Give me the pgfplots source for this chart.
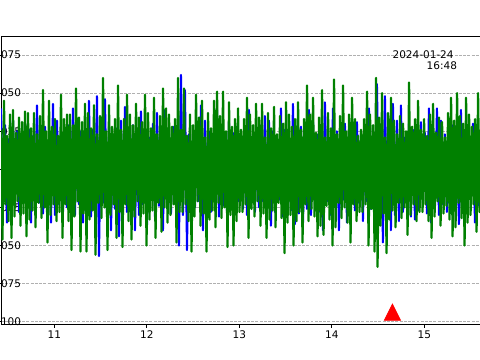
\documentclass[border=0pt]{standalone}
\usepackage{fontspec}
\setmainfont{DejaVu Sans}
\usepackage{pgfplots}
\pgfplotsset{compat=1.18}
\definecolor{mplgreen}{RGB}{0,128,0}
\definecolor{mplblue}{RGB}{0,0,255}
\definecolor{gridgray}{RGB}{176,176,176}
\pgfdeclareplotmark{mpltri}{%
  \pgfpathmoveto{\pgfqpoint{0pt}{\pgfplotmarksize}}%
  \pgfpathlineto{\pgfqpoint{-\pgfplotmarksize}{-\pgfplotmarksize}}%
  \pgfpathlineto{\pgfqpoint{\pgfplotmarksize}{-\pgfplotmarksize}}%
  \pgfpathclose\pgfusepathqfillstroke}
\pgfplotsset{layers/mylayers/.define layer set={axis background,axis grid,axis ticks,axis tick labels,pre main,main,axis lines,axis descriptions,axis foreground}{}}
\begin{document}
\begin{tikzpicture}
\begin{axis}[
  set layers=mylayers,
  at={(0,0)}, anchor=south west,
  scale only axis, width=488bp, height=288bp,
  xmin=10.424, xmax=15.70, ymin=-0.1015, ymax=0.0875,
  xtick={11,12,13,14,15},
  ytick={-0.1,-0.075,-0.05,-0.025,0,0.025,0.05,0.075},
  scaled y ticks=false, scaled x ticks=false,
  xtick pos=lower, ytick pos=left,
  ymajorgrids,
  grid style={gridgray, line width=0.8bp, dash pattern=on 2.96bp off 1.28bp},
  axis line style={line width=0.8bp, black},
  tick style={line width=0.8bp, black},
  tick align=outside, major tick length=3.5bp,
  tick label style={font=\fontsize{10.5bp}{12bp}\selectfont},
  /pgf/number format/assume math mode=true,
  yticklabel style={/pgf/number format/fixed, /pgf/number format/fixed zerofill, /pgf/number format/precision=3, anchor=east, inner sep=0pt, xshift=23.8bp},
  xticklabel style={inner sep=0pt, anchor=north, yshift=-3.5bp},
]
\addplot[mplblue, line width=2bp, line join=round] table[x expr=10.424+\coordindex*0.02162, y index=0, header=false, row sep=\\]{
0.040\\ -0.025\\ 0.029\\ -0.035\\ 0.020\\ -0.030\\ 0.032\\ -0.023\\ 0.025\\ -0.028\\
0.021\\ -0.020\\ 0.030\\ -0.031\\ 0.026\\ -0.035\\ 0.022\\ -0.027\\ 0.042\\ -0.022\\
0.024\\ -0.029\\ 0.028\\ -0.021\\ 0.020\\ -0.035\\ 0.043\\ -0.030\\ 0.032\\ -0.023\\
0.023\\ -0.028\\ 0.023\\ -0.025\\ 0.029\\ -0.021\\ 0.040\\ -0.030\\ 0.032\\ -0.023\\
0.025\\ -0.035\\ 0.021\\ -0.020\\ 0.045\\ -0.031\\ 0.026\\ -0.024\\ 0.048\\ -0.057\\
0.031\\ -0.022\\ 0.046\\ -0.029\\ 0.028\\ -0.040\\ 0.020\\ -0.026\\ 0.027\\ -0.044\\
0.032\\ -0.023\\ 0.041\\ -0.028\\ 0.023\\ -0.025\\ 0.029\\ -0.040\\ 0.020\\ -0.030\\
0.038\\ -0.023\\ 0.025\\ -0.037\\ 0.021\\ -0.020\\ 0.030\\ -0.031\\ 0.037\\ -0.024\\
0.022\\ -0.040\\ 0.039\\ -0.022\\ 0.024\\ -0.029\\ 0.028\\ -0.021\\ 0.020\\ -0.050\\
0.062\\ -0.030\\ 0.052\\ -0.053\\ 0.023\\ -0.028\\ 0.023\\ -0.025\\ 0.029\\ -0.021\\
0.042\\ -0.040\\ 0.032\\ -0.023\\ 0.025\\ -0.028\\ 0.021\\ -0.020\\ 0.040\\ -0.031\\
0.026\\ -0.024\\ 0.022\\ -0.027\\ 0.031\\ -0.022\\ 0.024\\ -0.029\\ 0.028\\ -0.021\\
0.020\\ -0.026\\ 0.027\\ -0.030\\ 0.039\\ -0.023\\ 0.023\\ -0.028\\ 0.023\\ -0.025\\
0.029\\ -0.021\\ 0.035\\ -0.030\\ 0.032\\ -0.037\\ 0.025\\ -0.028\\ 0.021\\ -0.020\\
0.040\\ -0.031\\ 0.026\\ -0.024\\ 0.022\\ -0.027\\ 0.043\\ -0.036\\ 0.024\\ -0.029\\
0.028\\ -0.036\\ 0.020\\ -0.026\\ 0.039\\ -0.030\\ 0.032\\ -0.023\\ 0.023\\ -0.028\\
0.023\\ -0.040\\ 0.044\\ -0.021\\ 0.020\\ -0.030\\ 0.040\\ -0.023\\ 0.025\\ -0.040\\
0.021\\ -0.020\\ 0.030\\ -0.035\\ 0.026\\ -0.024\\ 0.022\\ -0.027\\ 0.031\\ -0.022\\
0.024\\ -0.034\\ 0.028\\ -0.021\\ 0.040\\ -0.026\\ 0.027\\ -0.030\\ 0.056\\ -0.023\\
0.023\\ -0.048\\ 0.048\\ -0.025\\ 0.029\\ -0.040\\ 0.043\\ -0.030\\ 0.032\\ -0.034\\
0.042\\ -0.028\\ 0.021\\ -0.020\\ 0.030\\ -0.031\\ 0.026\\ -0.033\\ 0.022\\ -0.027\\
0.031\\ -0.022\\ 0.024\\ -0.029\\ 0.040\\ -0.035\\ 0.020\\ -0.026\\ 0.040\\ -0.030\\
0.032\\ -0.023\\ 0.023\\ -0.028\\ 0.023\\ -0.025\\ 0.029\\ -0.021\\ 0.020\\ -0.036\\
0.039\\ -0.023\\ 0.025\\ -0.028\\ 0.021\\ -0.020\\ 0.030\\ -0.035\\ 0.026\\ -0.024\\
0.022\\ -0.027\\
};
\addplot[mplgreen, line width=2.2bp, line join=round] table[x expr=10.424+\coordindex*0.01622, y index=0, header=false, row sep=\\]{
0.026\\ -0.046\\ 0.045\\ -0.023\\ 0.022\\ -0.034\\ 0.036\\ -0.045\\ 0.039\\ -0.031\\
0.024\\ -0.021\\ 0.034\\ -0.037\\ 0.031\\ -0.029\\ 0.038\\ -0.044\\ 0.037\\ -0.033\\
0.027\\ -0.027\\ 0.037\\ -0.038\\ 0.023\\ -0.022\\ 0.035\\ -0.032\\ 0.052\\ -0.025\\
0.025\\ -0.048\\ 0.045\\ -0.030\\ 0.028\\ -0.023\\ 0.033\\ -0.034\\ 0.022\\ -0.028\\
0.049\\ -0.045\\ 0.033\\ -0.023\\ 0.036\\ -0.034\\ 0.036\\ -0.053\\ 0.029\\ -0.031\\
0.053\\ -0.021\\ 0.034\\ -0.054\\ 0.031\\ -0.029\\ 0.043\\ -0.054\\ 0.037\\ -0.033\\
0.027\\ -0.027\\ 0.042\\ -0.056\\ 0.023\\ -0.022\\ 0.035\\ -0.032\\ 0.060\\ -0.025\\
0.025\\ -0.053\\ 0.042\\ -0.030\\ 0.028\\ -0.023\\ 0.033\\ -0.045\\ 0.055\\ -0.028\\
0.026\\ -0.051\\ 0.033\\ -0.023\\ 0.049\\ -0.034\\ 0.036\\ -0.046\\ 0.029\\ -0.031\\
0.043\\ -0.021\\ 0.034\\ -0.037\\ 0.031\\ -0.029\\ 0.049\\ -0.050\\ 0.037\\ -0.033\\
0.027\\ -0.027\\ 0.047\\ -0.045\\ 0.023\\ -0.022\\ 0.035\\ -0.041\\ 0.053\\ -0.025\\
0.040\\ -0.035\\ 0.036\\ -0.030\\ 0.028\\ -0.023\\ 0.033\\ -0.048\\ 0.060\\ -0.028\\
0.026\\ -0.028\\ 0.053\\ -0.023\\ 0.022\\ -0.034\\ 0.036\\ -0.054\\ 0.029\\ -0.031\\
0.049\\ -0.021\\ 0.034\\ -0.037\\ 0.045\\ -0.029\\ 0.021\\ -0.054\\ 0.037\\ -0.033\\
0.027\\ -0.027\\ 0.045\\ -0.038\\ 0.051\\ -0.022\\ 0.035\\ -0.032\\ 0.051\\ -0.025\\
0.025\\ -0.051\\ 0.044\\ -0.030\\ 0.028\\ -0.050\\ 0.033\\ -0.034\\ 0.040\\ -0.028\\
0.026\\ -0.028\\ 0.033\\ -0.023\\ 0.047\\ -0.045\\ 0.036\\ -0.026\\ 0.029\\ -0.031\\
0.043\\ -0.021\\ 0.034\\ -0.037\\ 0.043\\ -0.029\\ 0.021\\ -0.045\\ 0.037\\ -0.033\\
0.027\\ -0.027\\ 0.041\\ -0.038\\ 0.023\\ -0.022\\ 0.035\\ -0.032\\ 0.030\\ -0.055\\
0.044\\ -0.035\\ 0.036\\ -0.030\\ 0.028\\ -0.050\\ 0.033\\ -0.034\\ 0.044\\ -0.028\\
0.026\\ -0.048\\ 0.033\\ -0.023\\ 0.055\\ -0.034\\ 0.036\\ -0.026\\ 0.047\\ -0.031\\
0.024\\ -0.044\\ 0.034\\ -0.037\\ 0.052\\ -0.043\\ 0.021\\ -0.024\\ 0.037\\ -0.033\\
0.027\\ -0.050\\ 0.059\\ -0.038\\ 0.023\\ -0.022\\ 0.035\\ -0.032\\ 0.055\\ -0.025\\
0.025\\ -0.035\\ 0.036\\ -0.048\\ 0.047\\ -0.023\\ 0.033\\ -0.034\\ 0.022\\ -0.028\\
0.026\\ -0.028\\ 0.033\\ -0.023\\ 0.051\\ -0.050\\ 0.036\\ -0.026\\ 0.029\\ -0.054\\
0.060\\ -0.064\\ 0.034\\ -0.037\\ 0.050\\ -0.029\\ 0.021\\ -0.055\\ 0.037\\ -0.033\\
0.047\\ -0.027\\ 0.032\\ -0.038\\ 0.023\\ -0.022\\ 0.035\\ -0.032\\ 0.030\\ -0.025\\
0.025\\ -0.043\\ 0.057\\ -0.030\\ 0.028\\ -0.023\\ 0.033\\ -0.034\\ 0.045\\ -0.028\\
0.026\\ -0.028\\ 0.033\\ -0.023\\ 0.022\\ -0.034\\ 0.036\\ -0.045\\ 0.043\\ -0.031\\
0.024\\ -0.021\\ 0.034\\ -0.037\\ 0.031\\ -0.029\\ 0.021\\ -0.024\\ 0.037\\ -0.033\\
0.047\\ -0.044\\ 0.032\\ -0.038\\ 0.050\\ -0.022\\ 0.035\\ -0.032\\ 0.030\\ -0.050\\
0.047\\ -0.035\\ 0.036\\ -0.030\\ 0.028\\ -0.023\\ 0.033\\ -0.041\\ 0.050\\ -0.028\\
0.026\\ -0.028\\
};
\addplot[only marks, mark=mpltri, mark size=8bp, red, mark options={fill=red, draw=red, line width=0.8bp}] coordinates {(14.656,-0.0938)};
\end{axis}
\node[anchor=base east, inner sep=0pt, font=\fontsize{10.5bp}{12bp}\selectfont] at (452.8bp,265.7bp) {2024-01-24};
\node[anchor=base east, inner sep=0pt, font=\fontsize{10.5bp}{12bp}\selectfont] at (456.2bp,254bp) {16:48};
\pgfresetboundingbox
\path[use as bounding box] (-1bp,-36bp) rectangle (479bp,324bp);
\end{tikzpicture}
\end{document}
